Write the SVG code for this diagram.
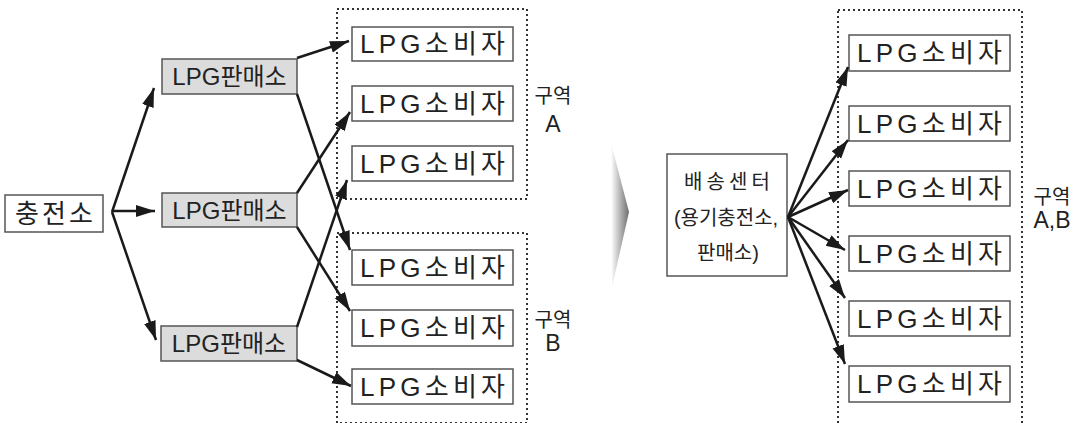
<svg xmlns="http://www.w3.org/2000/svg" width="1077" height="423" viewBox="0 0 1077 423">
<style>
.box{fill:#fff;stroke:#555;stroke-width:1.5}
.shop{fill:#dcdcdc;stroke:#555;stroke-width:1.5}
.zone{fill:none;stroke:#333;stroke-width:2;stroke-dasharray:2 3}
.t{font-family:"Liberation Sans","Noto Sans CJK KR",sans-serif;fill:#222;text-anchor:middle}
.c{font-size:26px}
.s{font-size:24px}
.l{font-size:20px}
.z{font-size:23px}
.arr{stroke:#1a1a1a;stroke-width:2.5;fill:none;marker-end:url(#ah)}
</style>
<defs>
<marker id="ah" markerUnits="userSpaceOnUse" markerWidth="22" markerHeight="14" refX="19" refY="6" orient="auto">
<path d="M0,0 L19,6 L0,12 Z" fill="#1a1a1a"/>
</marker>
<linearGradient id="g" x1="0" y1="0" x2="1" y2="0">
<stop offset="0" stop-color="#fff"/>
<stop offset="1" stop-color="#6e6e6e"/>
</linearGradient>
</defs>
<rect width="1077" height="423" fill="#fff"/>

<g id="zoneA"><rect class="zone" x="337" y="9" width="190" height="190"/>
<text class="t l" x="553" y="103">구역</text><text class="t z" x="553" y="132">A</text></g>
<g id="zoneB"><rect class="zone" x="337" y="233" width="190" height="190"/>
<text class="t l" x="553" y="327">구역</text><text class="t z" x="553" y="351">B</text></g>
<g id="zoneAB"><rect class="zone" x="838" y="10" width="184" height="415"/>
<text class="t l" x="1052" y="204">구역</text><text class="t z" x="1052" y="228">A,B</text></g>

<g id="station"><rect class="box" x="5" y="195" width="98" height="37"/>
<text class="t c" x="54" y="223" textLength="78" lengthAdjust="spacing">충전소</text></g>

<g id="shop1"><rect class="shop" x="162" y="59" width="135" height="35"/><text class="t s" x="229.5" y="85">LPG판매소</text></g>
<g id="shop2"><rect class="shop" x="162" y="193" width="135" height="34"/><text class="t s" x="229.5" y="219">LPG판매소</text></g>
<g id="shop3"><rect class="shop" x="161" y="326" width="136" height="35"/><text class="t s" x="229" y="352">LPG판매소</text></g>

<g id="a1"><rect class="box" x="352" y="27" width="161" height="34"/><text class="t c" x="432.5" y="53" textLength="145" lengthAdjust="spacing">LPG소비자</text></g>
<g id="a2"><rect class="box" x="352" y="86" width="161" height="35"/><text class="t c" x="432.5" y="113" textLength="145" lengthAdjust="spacing">LPG소비자</text></g>
<g id="a3"><rect class="box" x="352" y="146" width="161" height="35"/><text class="t c" x="432.5" y="173" textLength="145" lengthAdjust="spacing">LPG소비자</text></g>
<g id="b1"><rect class="box" x="352" y="250" width="161" height="35"/><text class="t c" x="432.5" y="277" textLength="145" lengthAdjust="spacing">LPG소비자</text></g>
<g id="b2"><rect class="box" x="352" y="310" width="161" height="36"/><text class="t c" x="432.5" y="337" textLength="145" lengthAdjust="spacing">LPG소비자</text></g>
<g id="b3"><rect class="box" x="352" y="369" width="161" height="35"/><text class="t c" x="432.5" y="396" textLength="145" lengthAdjust="spacing">LPG소비자</text></g>

<g id="bigArrow"><polygon points="611,143 629,212 612,287" fill="url(#g)"/></g>

<g id="center"><rect class="box" x="667" y="154" width="120" height="122"/>
<text class="t l" x="727" y="189" textLength="86" lengthAdjust="spacing">배송센터</text>
<text class="t l" x="726" y="225">(용기충전소,</text>
<text class="t l" x="728" y="260">판매소)</text></g>

<g id="r1"><rect class="box" x="849" y="35" width="161" height="36"/><text class="t c" x="929.5" y="62" textLength="145" lengthAdjust="spacing">LPG소비자</text></g>
<g id="r2"><rect class="box" x="849" y="106" width="161" height="35"/><text class="t c" x="929.5" y="133" textLength="145" lengthAdjust="spacing">LPG소비자</text></g>
<g id="r3"><rect class="box" x="849" y="171" width="161" height="35"/><text class="t c" x="929.5" y="198" textLength="145" lengthAdjust="spacing">LPG소비자</text></g>
<g id="r4"><rect class="box" x="849" y="236" width="161" height="35"/><text class="t c" x="929.5" y="263" textLength="145" lengthAdjust="spacing">LPG소비자</text></g>
<g id="r5"><rect class="box" x="849" y="301" width="161" height="35"/><text class="t c" x="929.5" y="328" textLength="145" lengthAdjust="spacing">LPG소비자</text></g>
<g id="r6"><rect class="box" x="849" y="366" width="161" height="36"/><text class="t c" x="929.5" y="393" textLength="145" lengthAdjust="spacing">LPG소비자</text></g>

<g id="connectors">
<path class="arr" d="M112,212 L154,88"/>
<path class="arr" d="M112,211 L155,211"/>
<path class="arr" d="M112,212 L156,340"/>
<path class="arr" d="M297,58 L349,41"/>
<path class="arr" d="M297,94 L350,250"/>
<path class="arr" d="M297,193 L350,112"/>
<path class="arr" d="M297,227 L350,311"/>
<path class="arr" d="M297,327 L347,180"/>
<path class="arr" d="M297,360 L351,386"/>
<path class="arr" d="M788,217 L848,67"/>
<path class="arr" d="M788,217 L848,140"/>
<path class="arr" d="M788,217 L848,190"/>
<path class="arr" d="M788,217 L845,250"/>
<path class="arr" d="M788,217 L845,298"/>
<path class="arr" d="M788,217 L845,364"/>
</g>
</svg>
